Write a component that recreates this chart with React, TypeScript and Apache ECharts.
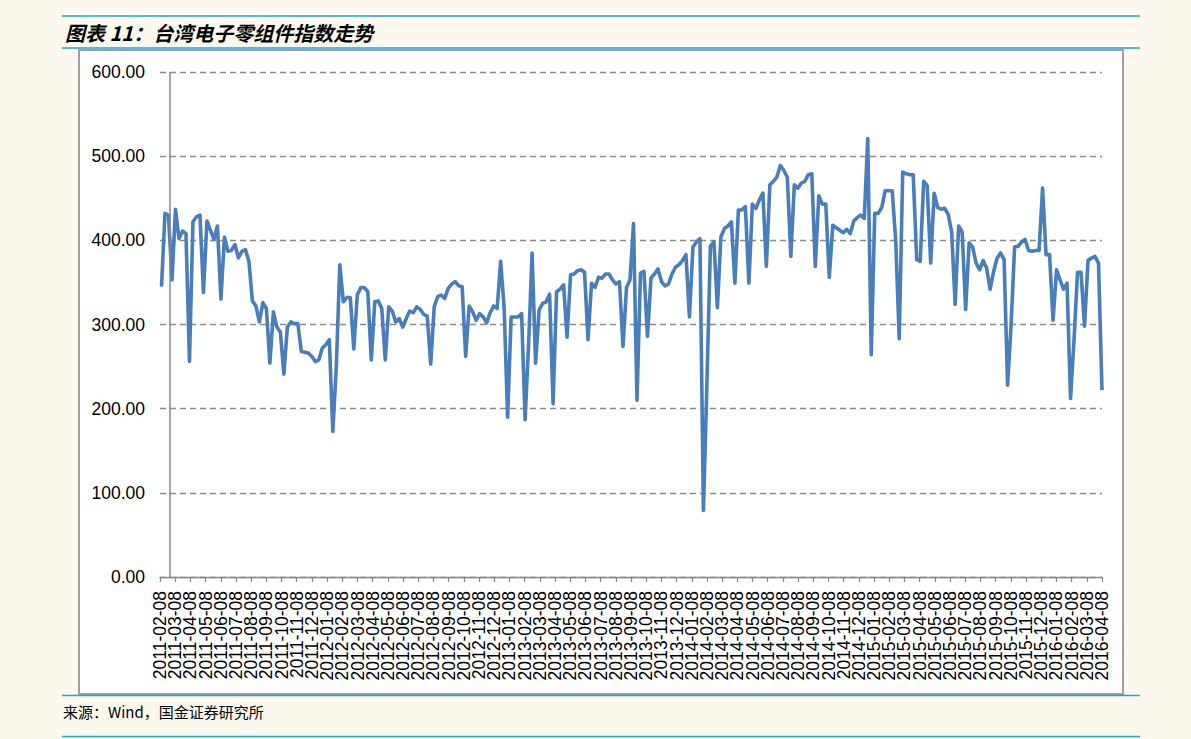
import { useEffect, useRef } from "react";
import * as echarts from "echarts";

// Monthly tick labels on the category axis
const monthLabels = [
  "2011-02-08", "2011-03-08", "2011-04-08", "2011-05-08", "2011-06-08", "2011-07-08", "2011-08-08", "2011-09-08", "2011-10-08", "2011-11-08", "2011-12-08",
  "2012-01-08", "2012-02-08", "2012-03-08", "2012-04-08", "2012-05-08", "2012-06-08", "2012-07-08", "2012-08-08", "2012-09-08", "2012-10-08", "2012-11-08", "2012-12-08",
  "2013-01-08", "2013-02-08", "2013-03-08", "2013-04-08", "2013-05-08", "2013-06-08", "2013-07-08", "2013-08-08", "2013-09-08", "2013-10-08", "2013-11-08", "2013-12-08",
  "2014-01-08", "2014-02-08", "2014-03-08", "2014-04-08", "2014-05-08", "2014-06-08", "2014-07-08", "2014-08-08", "2014-09-08", "2014-10-08", "2014-11-08", "2014-12-08",
  "2015-01-08", "2015-02-08", "2015-03-08", "2015-04-08", "2015-05-08", "2015-06-08", "2015-07-08", "2015-08-08", "2015-09-08", "2015-10-08", "2015-11-08", "2015-12-08",
  "2016-01-08", "2016-02-08", "2016-03-08", "2016-04-08",
];

// Weekly observations (every Friday) starting from this date
const firstWeek = "2011-02-11";
const axisStart = "2011-02-08";
const axisEnd = "2016-04-08";
const valueAxisCrossDate = "2011-02-28";

// Index values, weekly
const indexValues = [
  345, 432, 430, 353, 437, 402, 411, 408, 256, 422,
  428, 430, 338, 423, 412, 401, 417, 330, 404, 387,
  388, 395, 379, 387, 389, 375, 328, 322, 303, 326,
  319, 254, 315, 297, 291, 241, 297, 303, 301, 301,
  268, 267, 266, 262, 256, 258, 272, 276, 282, 173,
  250, 371, 327, 332, 332, 271, 335, 344, 344, 339,
  258, 327, 328, 319, 258, 321, 316, 303, 307, 297,
  307, 316, 314, 321, 318, 312, 310, 253, 321, 333,
  335, 331, 343, 348, 351, 346, 345, 262, 322, 315,
  305, 313, 309, 302, 314, 322, 319, 375, 320, 190,
  309, 309, 309, 313, 187, 277, 385, 254, 317, 325,
  327, 336, 206, 339, 342, 347, 285, 359, 360, 364,
  365, 362, 282, 349, 344, 356, 355, 360, 360, 353,
  348, 351, 274, 344, 353, 420, 210, 361, 363, 286,
  355, 360, 366, 351, 346, 348, 360, 368, 371, 376,
  383, 309, 392, 398, 402, 79, 230, 393, 398, 320,
  404, 414, 417, 422, 349, 436, 436, 440, 349, 443,
  438, 448, 456, 369, 466, 470, 475, 489, 483, 475,
  381, 466, 462, 468, 470, 478, 479, 369, 453, 443,
  443, 356, 418, 415, 412, 409, 413, 408, 423, 427,
  430, 426, 521, 264, 432, 432, 439, 459, 459, 459,
  400, 283, 481, 479, 478, 478, 377, 375, 470, 465,
  373, 456, 439, 437, 438, 431, 410, 324, 417, 410,
  318, 397, 392, 373, 365, 376, 367, 342, 363, 379,
  385, 377, 228, 300, 392, 393, 398, 401, 388, 387,
  388, 388, 462, 383, 383, 305, 365, 353, 342, 349,
  212, 282, 362, 362, 298, 376, 379, 381, 373, 222,
];

const yMin = 0;
const yMax = 600;
const yStep = 100;

const titleText = "图表 11：台湾电子零组件指数走势";
const sourceText = "来源：Wind，国金证券研究所";

function ts(s: string): number {
  const [y, m, d] = s.split("-").map(Number);
  return Date.UTC(y, m - 1, d);
}

const WEEK = 7 * 86400000;

export default function App() {
  const ref = useRef<HTMLDivElement>(null);

  useEffect(() => {
    if (!ref.current) return;
    const chart = echarts.init(ref.current, null, { renderer: "svg" });
    const start = ts(firstWeek);
    const data = indexValues.map((v, i) => [start + i * WEEK, v]);
    const blue = "#19a5ec";
    const axisGray = "#878787";
    const labelFont = "'Liberation Sans', Arial, sans-serif";

    chart.setOption({
      animation: false,
      backgroundColor: "transparent",
      grid: { left: 160, right: 89, top: 72, bottom: 162, containLabel: false },
      xAxis: [
        {
          type: "category",
          data: monthLabels,
          boundaryGap: false,
          axisLine: { show: true, lineStyle: { color: axisGray, width: 1.3 } },
          axisTick: { show: true, interval: 0, length: 5, lineStyle: { color: axisGray, width: 1.2 } },
          axisLabel: { interval: 0, rotate: 90, fontSize: 17.5, color: "#000", margin: 14, fontFamily: labelFont },
          splitLine: { show: false },
        },
        { type: "time", min: ts(axisStart), max: ts(axisEnd), show: false },
      ],
      yAxis: {
        type: "value",
        min: yMin,
        max: yMax,
        interval: yStep,
        axisLine: { show: false },
        axisTick: { show: false },
        axisLabel: {
          formatter: (v: number) => v.toFixed(2),
          fontSize: 17.5,
          color: "#000",
          margin: 15,
          fontFamily: labelFont,
        },
        splitLine: { show: true, lineStyle: { color: "#8a8a8a", width: 1.3, type: [6, 4] } },
      },
      series: [
        {
          type: "line",
          xAxisIndex: 1,
          data,
          showSymbol: false,
          symbol: "none",
          lineStyle: { color: "#4a7ebb", width: 3.6, join: "round" },
          markLine: {
            silent: true,
            symbol: ["none", "none"],
            label: { show: false },
            lineStyle: { color: axisGray, type: "solid", width: 1.5 },
            data: [{ xAxis: ts(valueAxisCrossDate) }],
          },
          z: 3,
        },
      ],
      graphic: [
        { type: "line", shape: { x1: 62, y1: 16, x2: 1140, y2: 16 }, style: { stroke: blue, lineWidth: 1.6 } },
        { type: "line", shape: { x1: 62, y1: 48, x2: 1140, y2: 48 }, style: { stroke: blue, lineWidth: 1.6 } },
        { type: "line", shape: { x1: 62, y1: 695.5, x2: 1140, y2: 695.5 }, style: { stroke: blue, lineWidth: 1.6 } },
        { type: "line", shape: { x1: 62, y1: 736.5, x2: 1140, y2: 736.5 }, style: { stroke: blue, lineWidth: 1.6 } },
        {
          type: "text",
          x: 65,
          y: 32,
          style: {
            text: titleText,
            font: "italic bold 20px 'Noto Sans CJK SC', sans-serif",
            fill: "#000",
            verticalAlign: "middle",
          },
        },
        {
          type: "text",
          x: 63,
          y: 711,
          style: {
            text: sourceText,
            font: "15px 'Noto Sans CJK SC', sans-serif",
            fill: "#000",
            verticalAlign: "middle",
          },
        },
      ],
    });
    return () => chart.dispose();
  }, []);

  return (
    <div style={{ position: "fixed", left: 0, top: 0, width: 1191, height: 739, background: "#fdf8ed" }}>
      <div
        style={{
          position: "absolute",
          left: 78,
          top: 49,
          width: 1046,
          height: 646,
          boxSizing: "border-box",
          background: "#ffffff",
          border: "2px solid #a0a0a0",
        }}
      />
      <div ref={ref} style={{ position: "absolute", left: 0, top: 0, width: 1191, height: 739 }} />
    </div>
  );
}
